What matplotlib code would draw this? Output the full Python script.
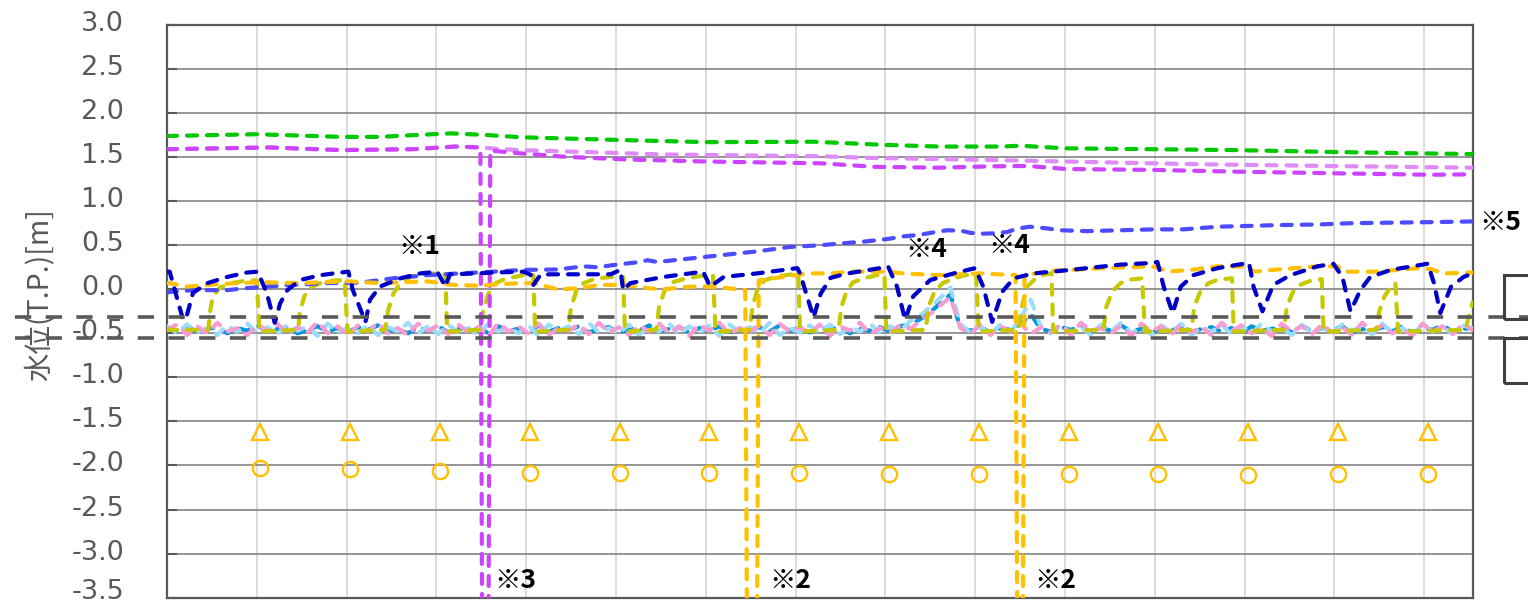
import numpy as np
import matplotlib
matplotlib.use("Agg")
import matplotlib.pyplot as plt
import matplotlib.transforms as mtransforms
from matplotlib.patches import Rectangle

plt.rcParams['font.family'] = ['DejaVu Sans']
plt.rcParams['axes.unicode_minus'] = False

# ---------------- data (x in grid-interval units, y in m T.P.) ----------------
y_ticks = [3.0, 2.5, 2.0, 1.5, 1.0, 0.5, 0.0, -0.5, -1.0, -1.5, -2.0, -2.5, -3.0, -3.5]
x_grid = list(range(1, 15))

green = [(0.00, 1.74), (1.00, 1.76), (1.94, 1.73), (2.36, 1.73), (3.16, 1.77), (3.58, 1.75),
         (3.96, 1.725), (5.03, 1.695), (6.02, 1.67), (7.20, 1.675), (7.97, 1.64), (8.60, 1.62),
         (9.30, 1.62), (9.50, 1.63), (10.00, 1.60), (10.97, 1.59), (11.90, 1.58), (12.90, 1.56),
         (13.80, 1.545), (14.54, 1.535)]

mag_light = [(0.00, 1.59), (1.14, 1.61), (1.94, 1.58), (2.73, 1.59), (3.21, 1.62), (3.49, 1.61),
             (3.60, 1.60), (3.91, 1.58), (4.61, 1.56), (5.55, 1.53), (7.28, 1.51), (7.88, 1.49),
             (9.07, 1.47), (10.02, 1.45), (11.45, 1.42), (12.88, 1.40), (14.54, 1.38)]

mag_dark = [(0.00, 1.59), (1.14, 1.61), (1.94, 1.58), (2.73, 1.59), (3.21, 1.62), (3.49, 1.61),
            (3.51, -4.0), (3.58, -4.0), (3.60, 1.575), (3.91, 1.545), (4.42, 1.505), (5.08, 1.475),
            (6.02, 1.45), (7.28, 1.43), (7.88, 1.39), (8.59, 1.38), (9.16, 1.395), (9.59, 1.40),
            (10.02, 1.365), (10.98, 1.355), (11.92, 1.335), (13.11, 1.315), (14.07, 1.30), (14.54, 1.305)]

mid_blue = [(0.00, -0.04), (0.03, -0.03), (0.29, -0.01), (0.67, -0.01), (0.85, 0.01), (1.11, 0.03),
            (1.40, 0.05), (1.78, 0.07), (2.15, 0.075), (2.52, 0.125), (2.90, 0.16), (3.26, 0.18),
            (3.63, 0.20), (3.97, 0.22), (4.35, 0.225), (4.64, 0.26), (4.79, 0.25), (5.01, 0.28),
            (5.27, 0.31), (5.35, 0.33), (5.46, 0.31), (5.83, 0.35), (6.20, 0.39), (6.57, 0.43),
            (6.93, 0.48), (7.28, 0.50), (7.50, 0.52), (7.75, 0.54), (8.02, 0.57), (8.20, 0.60),
            (8.39, 0.62), (8.53, 0.645), (8.69, 0.67), (8.84, 0.665), (8.95, 0.64), (9.06, 0.63),
            (9.20, 0.635), (9.36, 0.65), (9.47, 0.69), (9.61, 0.71), (9.81, 0.69), (9.95, 0.67),
            (10.25, 0.66), (10.62, 0.67), (10.99, 0.68), (11.32, 0.68), (11.70, 0.71), (12.07, 0.72),
            (12.43, 0.73), (12.81, 0.735), (13.18, 0.75), (13.55, 0.755), (13.93, 0.76), (14.54, 0.77)]

dark_blue = [(0.00, 0.20), (0.03, 0.20), (0.18, -0.35), (0.22, -0.30), (0.29, -0.04), (0.45, 0.07),
             (0.67, 0.14), (0.89, 0.19), (1.01, 0.20), (1.11, -0.04), (1.20, -0.38), (1.26, -0.16),
             (1.34, -0.01), (1.48, 0.105), (1.71, 0.16), (1.93, 0.19), (2.02, 0.20), (2.07, -0.01),
             (2.21, -0.37), (2.26, -0.12), (2.37, 0.03), (2.60, 0.125), (2.82, 0.18), (3.01, 0.20),
             (3.10, 0.03), (3.15, 0.17), (3.45, 0.18), (3.63, 0.19), (3.97, 0.20), (4.05, 0.165),
             (4.08, 0.05), (4.16, 0.165), (4.27, 0.17), (4.94, 0.17), (5.05, 0.22), (5.08, -0.01),
             (5.16, 0.07), (5.53, 0.14), (5.97, 0.20), (6.05, 0.03), (6.20, 0.14), (6.57, 0.18),
             (7.02, 0.24), (7.05, 0.18), (7.20, -0.32), (7.28, -0.05), (7.39, 0.13), (7.58, 0.18),
             (7.94, 0.24), (8.03, 0.26), (8.13, 0.03), (8.22, -0.35), (8.31, -0.08), (8.50, 0.105),
             (8.76, 0.18), (9.00, 0.24), (9.09, 0.03), (9.19, -0.37), (9.30, -0.03), (9.43, 0.125),
             (9.65, 0.18), (10.06, 0.22), (10.62, 0.28), (10.99, 0.30), (11.03, 0.31), (11.10, 0.03),
             (11.20, -0.27), (11.29, 0.03), (11.43, 0.16), (11.70, 0.24), (12.05, 0.30), (12.10, 0.03),
             (12.20, -0.25), (12.32, 0.05), (12.51, 0.16), (12.81, 0.26), (12.99, 0.29), (13.09, 0.14),
             (13.18, -0.25), (13.29, -0.01), (13.40, 0.14), (13.63, 0.22), (14.04, 0.29), (14.11, 0.07),
             (14.18, -0.27), (14.30, 0.03), (14.44, 0.14), (14.54, 0.18)]

orange = [(0.00, 0.07), (0.03, 0.07), (0.22, 0.03), (0.59, 0.06), (1.04, 0.08), (1.48, 0.07),
          (2.01, 0.09), (2.37, 0.07), (2.90, 0.09), (3.19, 0.05), (3.49, 0.04), (3.71, 0.06),
          (3.97, 0.07), (4.08, 0.07), (4.35, 0.00), (4.57, 0.01), (4.82, 0.05), (5.08, 0.05),
          (5.38, 0.01), (5.53, 0.00), (5.83, 0.03), (6.02, 0.03), (6.27, 0.01), (6.44, -0.01),
          (6.46, -4.0), (6.57, -4.0), (6.59, 0.10), (6.86, 0.14), (7.13, 0.18), (7.39, 0.18),
          (7.64, 0.20), (8.02, 0.20), (8.20, 0.18), (8.58, 0.16), (9.06, 0.18), (9.45, 0.16),
          (9.47, -4.0), (9.53, -4.0), (9.55, 0.16), (9.87, 0.21), (10.43, 0.24), (10.95, 0.26),
          (11.03, 0.25), (11.14, 0.20), (11.40, 0.22), (11.70, 0.26), (12.03, 0.26), (12.10, 0.20),
          (12.43, 0.23), (12.81, 0.26), (13.04, 0.26), (13.10, 0.20), (13.48, 0.20), (13.93, 0.24),
          (14.07, 0.23), (14.22, 0.18), (14.54, 0.19)]

olive = [(0.00, -0.46), (0.46, -0.46), (0.48, -0.25), (0.51, -0.08), (0.59, 0.02), (0.72, 0.07), (0.89, 0.10), (1.00, 0.10), (1.03, -0.48),
         (1.46, -0.46), (1.48, -0.25), (1.53, -0.08), (1.59, 0.02), (1.71, 0.07), (1.87, 0.10), (1.98, 0.105), (2.01, -0.48),
         (2.43, -0.46), (2.46, -0.25), (2.52, -0.05), (2.60, 0.07), (2.71, 0.14), (2.93, 0.18), (3.10, 0.17), (3.12, -0.48),
         (3.49, -0.46), (3.52, -0.25), (3.58, -0.05), (3.66, 0.07), (3.77, 0.12), (3.97, 0.16), (4.08, 0.16), (4.10, -0.48),
         (4.47, -0.46), (4.50, -0.20), (4.56, -0.02), (4.64, 0.07), (4.77, 0.12), (4.94, 0.14), (5.08, 0.14), (5.10, -0.48),
         (5.45, -0.46), (5.48, -0.20), (5.54, -0.02), (5.63, 0.08), (5.77, 0.12), (5.94, 0.15), (6.08, 0.15), (6.11, -0.48),
         (6.49, -0.46), (6.52, -0.20), (6.57, -0.02), (6.65, 0.10), (6.77, 0.14), (6.89, 0.16), (7.03, 0.18), (7.05, -0.48),
         (7.48, -0.46), (7.51, -0.20), (7.57, -0.02), (7.64, 0.08), (7.78, 0.13), (7.91, 0.16), (7.99, 0.16), (8.01, -0.48),
         (8.45, -0.46), (8.48, -0.20), (8.55, -0.02), (8.64, 0.07), (8.78, 0.13), (8.89, 0.16), (9.01, 0.17), (9.04, -0.48),
         (9.48, -0.46), (9.52, -0.20), (9.58, 0.03), (9.69, 0.14), (9.78, 0.17), (9.85, 0.18), (9.87, -0.48),
         (10.43, -0.46), (10.46, -0.20), (10.53, -0.02), (10.62, 0.07), (10.73, 0.11), (10.86, 0.125), (10.89, -0.48),
         (11.41, -0.46), (11.44, -0.20), (11.51, -0.02), (11.60, 0.07), (11.71, 0.11), (11.86, 0.125), (11.88, -0.48),
         (12.44, -0.46), (12.47, -0.20), (12.54, -0.03), (12.62, 0.05), (12.74, 0.10), (12.86, 0.115), (12.88, -0.48),
         (13.47, -0.46), (13.50, -0.25), (13.56, -0.08), (13.63, 0.03), (13.68, 0.07), (13.71, -0.48),
         (14.46, -0.46), (14.50, -0.30), (14.54, -0.15)]

pink = [-0.46, -0.40, -0.52, -0.42, -0.50, -0.38, -0.48, -0.44, -0.52, -0.40,
        -0.47, -0.39, -0.51, -0.43, -0.49, -0.37, -0.50, -0.42, -0.53, -0.41,
        -0.48, -0.38, -0.50, -0.44, -0.52, -0.39, -0.47, -0.41, -0.51, -0.40,
        -0.49, -0.43, -0.53, -0.38, -0.48, -0.42, -0.50, -0.39, -0.52, -0.44,
        -0.47, -0.40, -0.51, -0.38, -0.49, -0.43, -0.52, -0.41, -0.48, -0.39,
        -0.50, -0.42, -0.53, -0.40, -0.47, -0.38, -0.51, -0.44, -0.49, -0.41,
        -0.52, -0.39, -0.48, -0.43, -0.50, -0.40, -0.53, -0.42, -0.47, -0.38,
        -0.51, -0.44, -0.49, -0.41, -0.45, -0.36, -0.28, -0.18, -0.09, -0.44,
        -0.50, -0.40, -0.52, -0.42, -0.48, -0.39, -0.51, -0.43, -0.49, -0.40,
        -0.52, -0.38, -0.47, -0.44, -0.50, -0.41, -0.53, -0.39, -0.48, -0.42,
        -0.51, -0.40, -0.49, -0.43, -0.52, -0.38, -0.47, -0.41, -0.50, -0.44,
        -0.53, -0.39, -0.48, -0.42, -0.51, -0.40, -0.49, -0.43, -0.52, -0.38,
        -0.47, -0.41, -0.50, -0.44, -0.53, -0.39, -0.48, -0.42, -0.51, -0.40, -0.46]

light_blue = [-0.42, -0.50, -0.40, -0.49, -0.44, -0.52, -0.41, -0.48, -0.39, -0.50,
              -0.43, -0.51, -0.40, -0.47, -0.42, -0.53, -0.39, -0.49, -0.44, -0.50,
              -0.41, -0.52, -0.43, -0.48, -0.38, -0.50, -0.42, -0.51, -0.40, -0.49,
              -0.44, -0.52, -0.39, -0.48, -0.43, -0.50, -0.41, -0.53, -0.40, -0.47,
              -0.42, -0.51, -0.38, -0.49, -0.44, -0.50, -0.40, -0.52, -0.43, -0.48,
              -0.39, -0.51, -0.42, -0.49, -0.41, -0.53, -0.40, -0.48, -0.43, -0.50,
              -0.38, -0.52, -0.44, -0.49, -0.41, -0.50, -0.40, -0.51, -0.43, -0.48,
              -0.39, -0.50, -0.42, -0.47, -0.36, -0.30, -0.20, -0.10, 0.02, -0.40,
              -0.49, -0.42, -0.51, -0.40, -0.48, -0.33, -0.12, -0.42, -0.50, -0.41,
              -0.49, -0.43, -0.52, -0.40, -0.48, -0.38, -0.50, -0.44, -0.51, -0.41,
              -0.49, -0.39, -0.52, -0.43, -0.48, -0.40, -0.51, -0.42, -0.50, -0.39,
              -0.48, -0.44, -0.52, -0.41, -0.49, -0.43, -0.50, -0.40, -0.47, -0.42,
              -0.51, -0.39, -0.49, -0.44, -0.52, -0.40, -0.48, -0.43, -0.50, -0.41, -0.44]

sky_blue = [-0.44, -0.47, -0.42, -0.49, -0.45, -0.43, -0.50, -0.44, -0.47, -0.41,
            -0.48, -0.45, -0.43, -0.50, -0.46, -0.42, -0.48, -0.44, -0.49, -0.43,
            -0.46, -0.41, -0.48, -0.45, -0.50, -0.43, -0.47, -0.42, -0.49, -0.44,
            -0.46, -0.43, -0.50, -0.42, -0.47, -0.45, -0.49, -0.41, -0.48, -0.44,
            -0.46, -0.42, -0.49, -0.45, -0.43, -0.50, -0.44, -0.47, -0.41, -0.48,
            -0.45, -0.43, -0.49, -0.44, -0.47, -0.42, -0.50, -0.45, -0.46, -0.43,
            -0.48, -0.41, -0.47, -0.44, -0.49, -0.43, -0.46, -0.42, -0.50, -0.45,
            -0.47, -0.43, -0.48, -0.42, -0.40, -0.34, -0.26, -0.16, -0.06, -0.44,
            -0.47, -0.43, -0.49, -0.44, -0.46, -0.40, -0.28, -0.45, -0.48, -0.43,
            -0.46, -0.42, -0.49, -0.44, -0.47, -0.41, -0.48, -0.45, -0.50, -0.43,
            -0.47, -0.42, -0.49, -0.45, -0.43, -0.48, -0.44, -0.50, -0.42, -0.47,
            -0.45, -0.43, -0.49, -0.41, -0.48, -0.44, -0.46, -0.42, -0.50, -0.45,
            -0.47, -0.43, -0.48, -0.42, -0.49, -0.44, -0.46, -0.41, -0.48, -0.45, -0.44]

triangle_x = [1.04, 2.04, 3.04, 4.04, 5.04, 6.04, 7.04, 8.04, 9.04, 10.04, 11.04, 12.04, 13.04, 14.04]
triangle_y = [-1.62] * 14
circle_x = triangle_x
circle_y = [-2.025, -2.04, -2.06, -2.09, -2.09, -2.09, -2.09, -2.10, -2.10, -2.10, -2.10, -2.11, -2.10, -2.10]

ref_levels = [-0.32, -0.55]

notes = [("※1", 2.57, 0.49), ("※4", 8.22, 0.446), ("※4", 9.15, 0.50), ("※5", 14.61, 0.76),
         ("※3", 3.65, -3.31), ("※2", 6.71, -3.31), ("※2", 9.66, -3.31)]

# ---------------- figure ----------------
W, H = 1528, 605
fig = plt.figure(figsize=(W / 100, H / 100), dpi=100)
L, R, T, B = 167, 1472.6, 25, 597.6
ax = fig.add_axes([L / W, 1 - B / H, (R - L) / W, (B - T) / H])
ax.set_xlim(0, 14.54)
ax.set_ylim(-3.5, 3.0)

ax.set_yticks(y_ticks)
ax.set_yticklabels([f"{v:.1f}" for v in y_ticks])
ax.set_xticks(x_grid)
ax.set_xticklabels([])
ax.tick_params(axis='x', length=0)
ax.tick_params(axis='y', direction='in', length=7, width=1.5, color='#595959',
               labelsize=19.5, labelcolor='#595959', pad=31)
for tk, val in zip(ax.yaxis.get_major_ticks(), y_ticks):
    shift = 9 if val == -3.5 else 4
    up = mtransforms.ScaledTranslation(0, shift / 100, fig.dpi_scale_trans)
    tk.label1.set_transform(tk.label1.get_transform() + up)
ax.grid(axis='y', color='#8c8c8c', lw=1.3, zorder=0)
ax.grid(axis='x', color='#d9d9d9', lw=1.3, zorder=0)
ax.set_axisbelow(True)
for s in ax.spines.values():
    s.set_color('#595959')
    s.set_linewidth(1.6)

ax.set_ylabel("水位(T.P.)[m]", fontsize=20.5, color='#595959',
              family=['Noto Sans CJK JP', 'DejaVu Sans'])
ax.yaxis.set_label_coords(-0.086, 0.53)

dash = (0, (2.4, 2.4))
lw = 3.0

def draw(pairs, color, z):
    xs = [p[0] for p in pairs]
    ys = [p[1] for p in pairs]
    ax.plot(xs, ys, color=color, lw=lw, linestyle=dash, dash_capstyle='round', zorder=z)

noise_x = np.linspace(0, 14.54, len(pink))
ax.plot(noise_x, sky_blue, color='#0096dc', lw=lw, linestyle=dash, dash_capstyle='round', zorder=3)
ax.plot(noise_x, light_blue, color='#9bdcfa', lw=lw, linestyle=dash, dash_capstyle='round', zorder=3.1)
ax.plot(noise_x, pink, color='#fa9bd2', lw=lw, linestyle=dash, dash_capstyle='round', zorder=3.2)

draw(olive, '#c8c800', 3.5)
draw(green, '#00c800', 4)
draw(mag_light, '#e08cf8', 4)
draw(mag_dark, '#cc44ff', 4.2)
draw(mid_blue, '#4b4bff', 4.3)
draw(orange, '#ffc000', 4.4)
draw(dark_blue, '#0000c8', 4.5)

ax.plot(triangle_x, triangle_y, linestyle='none', marker='^', markersize=11,
        markerfacecolor='none', markeredgecolor='#ffc000', markeredgewidth=1.7, zorder=5)
ax.plot(circle_x, circle_y, linestyle='none', marker='o', markersize=11,
        markerfacecolor='none', markeredgecolor='#ffc000', markeredgewidth=1.7, zorder=5)

xmin_f = (15 - L) / (R - L)
xmax_f = (1528 - L) / (R - L)
for lv in ref_levels:
    ax.axhline(lv, xmin=xmin_f, xmax=xmax_f, color='#595959', lw=2.6,
               linestyle=(0, (4.5, 4.0)), clip_on=False, zorder=6)

for txt, xx, yy in notes:
    ax.text(xx, yy, txt, ha='left', va='center', fontsize=19, fontweight='bold', color='black',
            family=['Noto Sans CJK JP', 'DejaVu Sans'], zorder=7, clip_on=False)

# partial boxes at right edge
for (top, bot) in [(275, 319), (338, 383)]:
    fig.add_artist(Rectangle((1504 / W, 1 - bot / H), 60 / W, (bot - top) / H,
                             transform=fig.transFigure, fill=False, edgecolor='#404040', lw=2.2,
                             clip_on=False))

fig.savefig("out.png", dpi=100)
